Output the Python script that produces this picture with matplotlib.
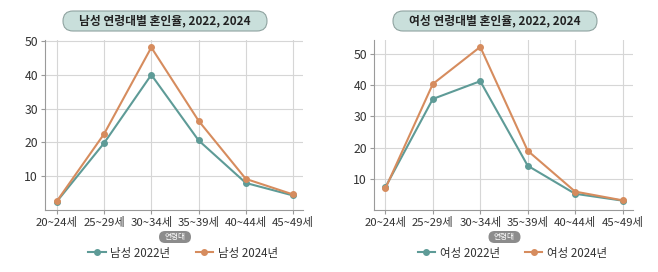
import matplotlib
matplotlib.use("Agg")
import matplotlib.pyplot as plt
from matplotlib.patches import FancyBboxPatch
from matplotlib.transforms import IdentityTransform
from matplotlib.lines import Line2D

plt.rcParams['font.family'] = ['Noto Sans CJK KR', 'DejaVu Sans']

categories = ["20~24세", "25~29세", "30~34세", "35~39세", "40~44세", "45~49세"]
male_2022 = [2.5, 19.8, 40.0, 20.6, 8.0, 4.3]
male_2024 = [2.6, 22.5, 48.1, 26.4, 9.2, 4.6]
female_2022 = [7.3, 35.6, 41.3, 14.2, 5.2, 3.0]
female_2024 = [6.9, 40.4, 52.3, 19.0, 5.9, 3.1]
yticks = [10, 20, 30, 40, 50]
titles = ["남성 연령대별 혼인율, 2022, 2024", "여성 연령대별 혼인율, 2022, 2024"]
labels_m = ["남성 2022년", "남성 2024년"]
labels_f = ["여성 2022년", "여성 2024년"]
xlabel = "연령대"

TEAL = "#5e9b97"
ORANGE = "#d68c5e"
W, H = 658, 272
fig = plt.figure(figsize=(W / 100, H / 100), dpi=100)
fig.patch.set_facecolor("white")

panels = [
    dict(rect=(45, 40, 303, 210), s1=male_2022, s2=male_2024, labels=labels_m,
         ylim=(0, 50.3), xlim=(-0.25, 5.21), title=titles[0], tc=165),
    dict(rect=(374, 40, 633, 210), s1=female_2022, s2=female_2024, labels=labels_f,
         ylim=(0, 54.5), xlim=(-0.24, 5.22), title=titles[1], tc=495),
]

for p in panels:
    x0, y0, x1, y1 = p["rect"]
    ax = fig.add_axes([x0 / W, 1 - y1 / H, (x1 - x0) / W, (y1 - y0) / H])
    xs = list(range(len(categories)))
    ax.plot(xs, p["s1"], color=TEAL, lw=1.5, marker="o", ms=4, zorder=3, label=p["labels"][0])
    ax.plot(xs, p["s2"], color=ORANGE, lw=1.5, marker="o", ms=4, zorder=3, label=p["labels"][1])
    ax.set_xlim(*p["xlim"])
    ax.set_ylim(*p["ylim"])
    ax.set_xticks(xs)
    ax.set_xticklabels(categories, fontsize=8.2, color="#333333")
    ax.set_yticks(yticks)
    ax.set_yticklabels([str(t) for t in yticks], fontsize=8.8, color="#333333")
    ax.grid(True, color="#d6d6d6", lw=0.8)
    ax.set_axisbelow(True)
    for s in ["top", "right"]:
        ax.spines[s].set_visible(False)
    for s in ["left", "bottom"]:
        ax.spines[s].set_color("#9a9a9a")
        ax.spines[s].set_linewidth(0.8)
    ax.tick_params(length=3, width=0.8, color="#9a9a9a", pad=2)

    # title pill
    tc = p["tc"]
    pill = FancyBboxPatch((tc - 102, H - 31), 204, 20,
                          boxstyle="round,pad=0,rounding_size=10",
                          transform=IdentityTransform(), facecolor="#c9dfdb",
                          edgecolor="#8fa3a0", lw=0.8, figure=fig)
    fig.patches.append(pill)
    fig.text(tc / W, 1 - 21 / H, p["title"], ha="center", va="center",
             fontsize=8.5, fontweight="bold", color="#222222")

    # x-label pill
    cx = (x0 + x1) / 2 + 1
    lp = FancyBboxPatch((cx - 16, H - 243), 32, 12,
                        boxstyle="round,pad=0,rounding_size=6",
                        transform=IdentityTransform(), facecolor="#8c8c8c",
                        edgecolor="none", figure=fig)
    fig.patches.append(lp)
    fig.text(cx / W, 1 - 237 / H, xlabel, ha="center", va="center",
             fontsize=5.5, color="white")

    # legend
    handles = [Line2D([], [], color=TEAL, lw=1.5, marker="o", ms=4),
               Line2D([], [], color=ORANGE, lw=1.5, marker="o", ms=4)]
    fig.legend(handles, p["labels"], loc="center", ncol=2, frameon=False,
               bbox_to_anchor=((cx + 8) / W, 1 - 253 / H), fontsize=8.3,
               handlelength=1.5, handletextpad=0.4, columnspacing=2.2,
               labelcolor="#333333")

fig.savefig("out.png", dpi=100, facecolor="white")
